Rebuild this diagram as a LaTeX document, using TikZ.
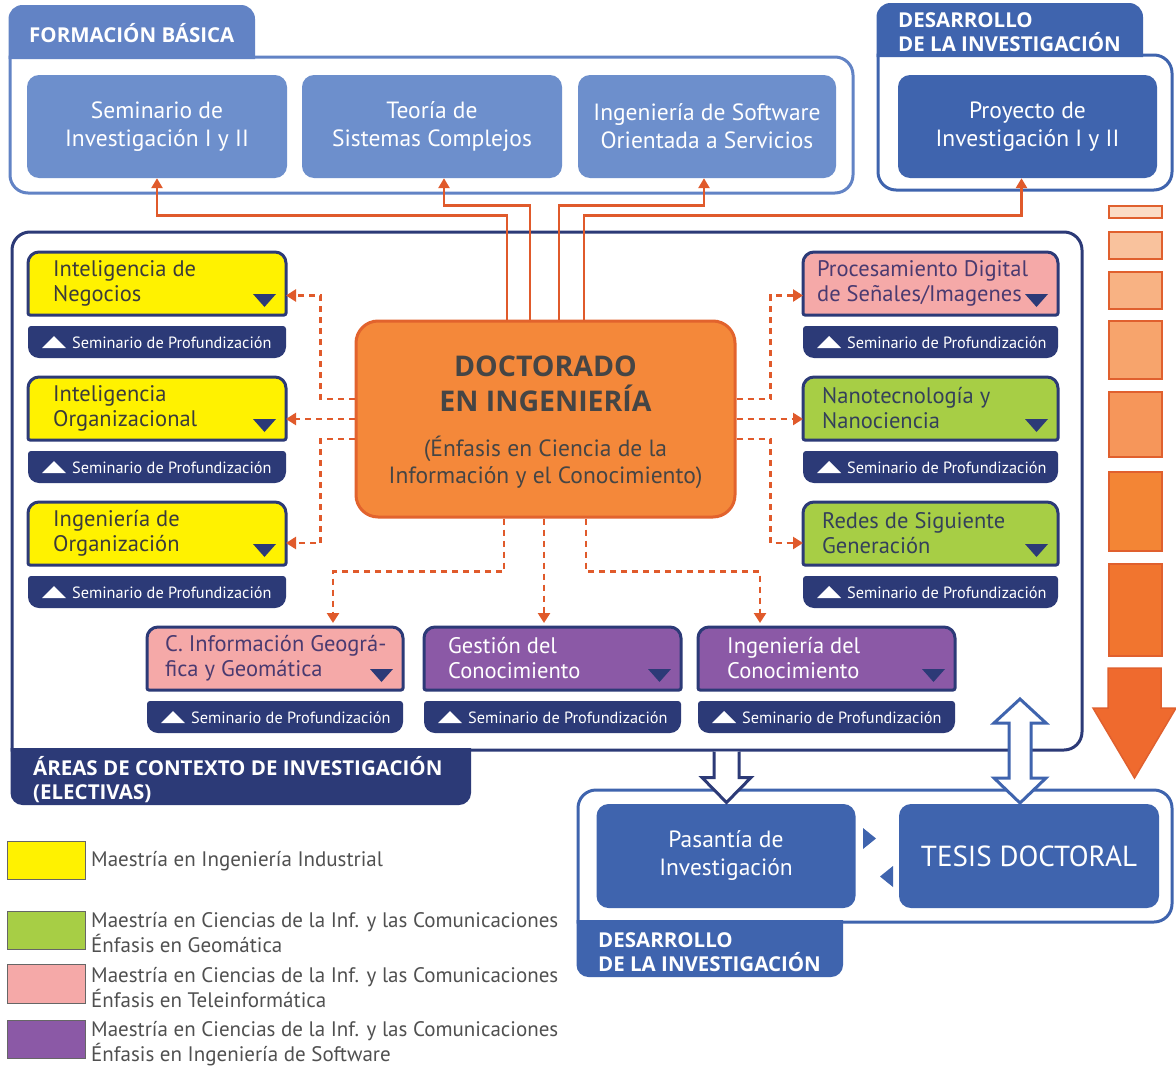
\documentclass[tikz,border=0pt]{standalone}
\usepackage{fontspec}
\setmainfont{PT Sans}
\newfontfamily\hdfam{Open Sans}
\usetikzlibrary{arrows.meta,calc}
\definecolor{fbBlue}{HTML}{6D8FCC}
\definecolor{fbLine}{HTML}{6283C5}
\definecolor{ddBlue}{HTML}{3F64AE}
\definecolor{navy}{HTML}{2C3A77}
\definecolor{docFill}{HTML}{F4883A}
\definecolor{docLine}{HTML}{E2632D}
\definecolor{docTxt}{HTML}{454545}
\definecolor{conn}{HTML}{E05A2B}
\definecolor{yel}{HTML}{FFF200}
\definecolor{grn}{HTML}{A7CE45}
\definecolor{pnk}{HTML}{F5A9A8}
\definecolor{prp}{HTML}{8B59A6}
\definecolor{txtY}{HTML}{3B3B3B}
\definecolor{txtG}{HTML}{34405A}
\definecolor{txtP}{HTML}{4A3A70}
\definecolor{legTxt}{HTML}{505050}
\definecolor{ob1}{HTML}{FBDCC5}
\definecolor{ob2}{HTML}{F9C29D}
\definecolor{ob3}{HTML}{F8B283}
\definecolor{ob4}{HTML}{F7A46C}
\definecolor{ob5}{HTML}{F6965A}
\definecolor{ob6}{HTML}{F38535}
\definecolor{ob7}{HTML}{F1752F}
\definecolor{ob8}{HTML}{EF6A2E}
\definecolor{obLine}{HTML}{E0602E}
\newcommand\hdfont{\hdfam\bfseries\fontsize{20.5}{24}\selectfont}
\newcommand\areafont{\fontsize{22.5}{25}\selectfont}
\newcommand\areabox[8]{%
  \node[geom, minimum width=#8pt, anchor=north west] (#1) at (#2,#3) {};
  \draw[navy, line width=3pt, fill=#4] (#1.south) [rounded corners=2pt] -- (#1.south west) [rounded corners=11pt] -- (#1.north west) -- (#1.north east) [rounded corners=2pt] -- (#1.south east) -- cycle;
  \fill[navy] ($(#1.south east)+(-33,-21)$) -- ($(#1.south east)+(-10,-21)$) -- ($(#1.south east)+(-21.5,-8)$) -- cycle;
  \node[anchor=west, align=left, inner sep=0pt, text=#5, font=\areafont] (#1-t) at ($(#1.west)+(#6,0)$) {#7};
  \node[barg, minimum width=#8pt, anchor=north west] (#1-s) at (#2,#3+74) {};
  \fill[navy] (#1-s.north) [rounded corners=3pt] -- (#1-s.north east) [rounded corners=11pt] -- (#1-s.south east) -- (#1-s.south west) [rounded corners=3pt] -- (#1-s.north west) -- cycle;
  \fill[white] ($(#1-s.west)+(14,6)$) -- ($(#1-s.west)+(38,6)$) -- ($(#1-s.west)+(26,-6)$) -- cycle;
  \node[anchor=west, inner sep=0pt, text=white, font=\fontsize{16.3}{18}\selectfont] (#1-st) at ($(#1-s.west)+(44,0.5)$) {Seminario de Profundización};
}
\tikzset{
  geom/.style={shape=rectangle, inner sep=0pt, outer sep=0pt, minimum height=63pt},
  barg/.style={shape=rectangle, inner sep=0pt, outer sep=0pt, minimum height=32pt},
  fbbox/.style={shape=rectangle, rounded corners=12pt, fill=fbBlue, text=white, minimum width=260pt, minimum height=103pt, align=center, inner sep=0pt, font=\fontsize{23.5}{28}\selectfont},
  ddbox/.style={shape=rectangle, rounded corners=12pt, fill=ddBlue, text=white, minimum width=259pt, minimum height=103pt, align=center, inner sep=0pt, font=\fontsize{23.5}{28}\selectfont},
  sconn/.style={conn, line width=2.5pt, -{Triangle[length=10pt,width=11pt]}},
  dconn/.style={conn, line width=2.5pt, dash pattern=on 6pt off 5pt, -{Triangle[length=10pt,width=12pt]}},
  obar/.style={shape=rectangle, draw=obLine, line width=2pt, minimum width=53pt, inner sep=0pt, anchor=north west},
  legsw/.style={shape=rectangle, draw=black!60, line width=1pt, minimum width=78pt, inner sep=0pt, anchor=north west},
  legtx/.style={anchor=west, align=left, inner sep=0pt, text=legTxt, font=\fontsize{21}{25}\selectfont},
}
\begin{document}
\begin{tikzpicture}[x=1pt, y=-1pt]
\useasboundingbox (0,0) rectangle (1176,1068);
\fill[white] (0,0) rectangle (1176,1068);

% ---------- Formacion basica ----------
\draw[fbLine, line width=3pt] (10,57) [rounded corners=18pt] -- (853,57) -- (853,193) -- (10,193) [sharp corners] -- cycle;
\fill[fbLine] (8.5,59) [rounded corners=14pt] -- (8.5,5) -- (255,5) [sharp corners] -- (255,59) -- cycle;
\node[anchor=west, inner sep=0pt, text=white, font=\hdfont] (fbt) at (29,33) {FORMACIÓN BÁSICA};
\node[fbbox] (sem) at (157,126.5) {Seminario de\\Investigación I y II};
\node[fbbox] (teo) at (432,126.5) {Teoría de\\Sistemas Complejos};
\node[fbbox, minimum width=258pt] (sw) at (707,126.5) {Ingeniería de Software\\Orientada a Servicios};

% ---------- Desarrollo (top) ----------
\draw[ddBlue, line width=3pt] (878,55) [rounded corners=18pt] -- (1172,55) -- (1172,190) -- (878,190) [sharp corners] -- cycle;
\fill[ddBlue] (876.5,57) [rounded corners=14pt] -- (876.5,3) -- (1143,3) [sharp corners] -- (1143,57) -- cycle;
\node[anchor=west, align=left, inner sep=0pt, text=white, font=\hdfont] (ddt) at (898,32) {DESARROLLO\\DE LA INVESTIGACIÓN};
\node[ddbox] (pro) at (1027.5,126.5) {Proyecto de\\Investigación I y II};

% ---------- Areas panel ----------
\draw[navy, line width=3pt] (12,750) [rounded corners=18pt] -- (12,232) -- (1082,232) -- (1082,750) [sharp corners] -- cycle;
\fill[navy] (10.5,748) [rounded corners=12pt] -- (10.5,805) -- (471,805) [sharp corners] -- (471,748) -- cycle;
\node[anchor=west, align=left, inner sep=0pt, text=white, font=\hdfont] (art) at (33,779.5) {ÁREAS DE CONTEXTO DE INVESTIGACIÓN\\(ELECTIVAS)};

\areabox{neg}{28}{252}{yel}{txtY}{25}{Inteligencia de\\Negocios}{258}
\areabox{org}{28}{377}{yel}{txtY}{25}{Inteligencia\\Organizacional}{258}
\areabox{ing}{28}{502}{yel}{txtY}{25}{Ingeniería de\\Organización}{258}
\areabox{pds}{803}{252}{pnk}{txtP}{14}{Procesamiento Digital\\de Señales/Imagenes}{255}
\areabox{nan}{803}{377}{grn}{txtG}{19}{Nanotecnología y\\Nanociencia}{255}
\areabox{red}{803}{502}{grn}{txtG}{19}{Redes de Siguiente\\Generación}{255}
\areabox{cig}{147}{627}{pnk}{txtP}{18}{C. Información Geográ-\\fica y Geomática}{256}
\areabox{ges}{424}{627}{prp}{white}{24}{Gestión del\\Conocimiento}{257}
\areabox{ikc}{698}{627}{prp}{white}{29}{Ingeniería del\\Conocimiento}{257}

% ---------- Doctorado ----------
\node[shape=rectangle, rounded corners=22pt, fill=docFill, draw=docLine, line width=3pt, minimum width=379pt, minimum height=196pt, inner sep=0pt] (doc) at (545.5,419) {};
\node[inner sep=0pt, align=center, text=docTxt, font=\hdfam\bfseries\fontsize{28.5}{35}\selectfont] (doct) at (545.5,383.5) {DOCTORADO\\EN INGENIERÍA};
\node[inner sep=0pt, align=center, text=docTxt, font=\fontsize{23.5}{27}\selectfont] (docs) at (545.5,462.5) {(Énfasis en Ciencia de la\\Información y el Conocimiento)};

% ---------- solid connectors ----------
\draw[sconn] ([xshift=-38.5pt]doc.north) -- ++(0,-104) -| (sem.south);
\draw[sconn] ([xshift=-15.5pt]doc.north) -- ++(0,-114) -| ([xshift=12pt]teo.south);
\draw[sconn] ([xshift=13.5pt]doc.north) -- ++(0,-114) -| ([xshift=-3pt]sw.south);
\draw[sconn] ([xshift=38.5pt]doc.north) -- ++(0,-104) -| ([xshift=-6pt]pro.south);

% ---------- dashed connectors ----------
\draw[dconn] ([yshift=20pt]doc.west) -- ++(-34,0) |- ([yshift=-12pt]neg.east);
\draw[dconn] (doc.west) -- (doc.west -| org.east);
\draw[dconn] ([yshift=-20pt]doc.west) -- ++(-34,0) |- ([yshift=-9.5pt]ing.east);
\draw[dconn] ([yshift=20pt]doc.east) -- ++(34,0) |- ([yshift=-12pt]pds.west);
\draw[dconn] (doc.east) -- (doc.east -| nan.west);
\draw[dconn] ([yshift=-20pt]doc.east) -- ++(34,0) |- ([yshift=-9.5pt]red.west);
\draw[dconn, shorten >=4pt] ([xshift=-41.5pt]doc.south) -- ++(0,53) -| ([xshift=58pt]cig.north);
\draw[dconn, shorten >=4pt] ([xshift=-1.5pt]doc.south) -- ([xshift=-1.5pt]doc.south |- ges.north);
\draw[dconn, shorten >=4pt] ([xshift=40.5pt]doc.south) -- ++(0,53) -| ([xshift=-66.5pt]ikc.north);

% ---------- Desarrollo (bottom) ----------
\draw[ddBlue, line width=3pt] (578,922) [rounded corners=18pt] -- (578,790) -- (1172,790) -- (1172,922) [sharp corners] -- cycle;
\fill[ddBlue] (576.5,920) [rounded corners=12pt] -- (576.5,977) -- (843,977) [sharp corners] -- (843,920) -- cycle;
\node[anchor=west, align=left, inner sep=0pt, text=white, font=\hdfont] (ddb) at (598,952.5) {DESARROLLO\\DE LA INVESTIGACIÓN};
\node[ddbox, minimum height=104pt] (pas) at (726,856) {Pasantía de\\Investigación};
\node[ddbox, minimum width=260pt, minimum height=104pt, font=\fontsize{29}{34}\selectfont] (tes) at (1029,856) {TESIS DOCTORAL};
\fill[ddBlue] (863,828) -- (876,838.5) -- (863,849) -- cycle;
\fill[ddBlue] (893,866) -- (880,876.5) -- (893,887) -- cycle;

% ---------- hollow arrows ----------
\coordinate (dA) at (726.5,751.5);
\filldraw[fill=white, draw=navy, line width=3pt, line join=miter] ($(dA)+(-12.5,0)$) -- ($(dA)+(-12.5,26)$) -- ($(dA)+(-24.5,26)$) -- ($(dA)+(0,51)$) -- ($(dA)+(24.5,26)$) -- ($(dA)+(12.5,26)$) -- ($(dA)+(12.5,0)$);
\coordinate (dB) at (1020,751);
\filldraw[fill=white, draw=ddBlue, line width=3pt, line join=miter] ($(dB)+(0,-52)$) -- ($(dB)+(26,-28)$) -- ($(dB)+(11,-28)$) -- ($(dB)+(11,27)$) -- ($(dB)+(26,27)$) -- ($(dB)+(0,52)$) -- ($(dB)+(-26,27)$) -- ($(dB)+(-11,27)$) -- ($(dB)+(-11,-28)$) -- ($(dB)+(-26,-28)$) -- cycle;

% ---------- orange progress column ----------
\node[obar, fill=ob1, minimum height=12pt] (b1) at (1108,205) {};
\node[obar, fill=ob2, minimum height=27pt] (b2) at (1108,231) {};
\node[obar, fill=ob3, minimum height=37pt] (b3) at (1108,271) {};
\node[obar, fill=ob4, minimum height=58pt] (b4) at (1108,320) {};
\node[obar, fill=ob5, minimum height=65pt] (b5) at (1108,391) {};
\node[obar, fill=ob6, minimum height=79pt] (b6) at (1108,471) {};
\node[obar, fill=ob7, minimum height=92pt] (b7) at (1108,563) {};
\filldraw[fill=ob8, draw=obLine, line width=1.5pt] (1108,668) -- (1161,668) -- (1161,708) -- (1176,708) -- (1134.5,778) -- (1093,708) -- (1108,708) -- cycle;

% ---------- legend ----------
\node[legsw, fill=yel, minimum height=38pt] (l1) at (7,841) {};
\node[legtx] (l1t) at (91,861) {Maestría en Ingeniería Industrial};
\node[legsw, fill=grn, minimum height=38pt] (l2) at (7,911) {};
\node[legtx] (l2t) at (91,932.5) {Maestría en Ciencias de la Inf. y las Comunicaciones\\Énfasis en Geomática};
\node[legsw, fill=pnk, minimum height=39pt] (l3) at (7,964) {};
\node[legtx] (l3t) at (91,987.5) {Maestría en Ciencias de la Inf. y las Comunicaciones\\Énfasis en Teleinformática};
\node[legsw, fill=prp, minimum height=38pt] (l4) at (7,1020) {};
\node[legtx] (l4t) at (91,1043.5) {Maestría en Ciencias de la Inf. y las Comunicaciones\\Énfasis en Ingeniería de Software};
\end{tikzpicture}
\end{document}
